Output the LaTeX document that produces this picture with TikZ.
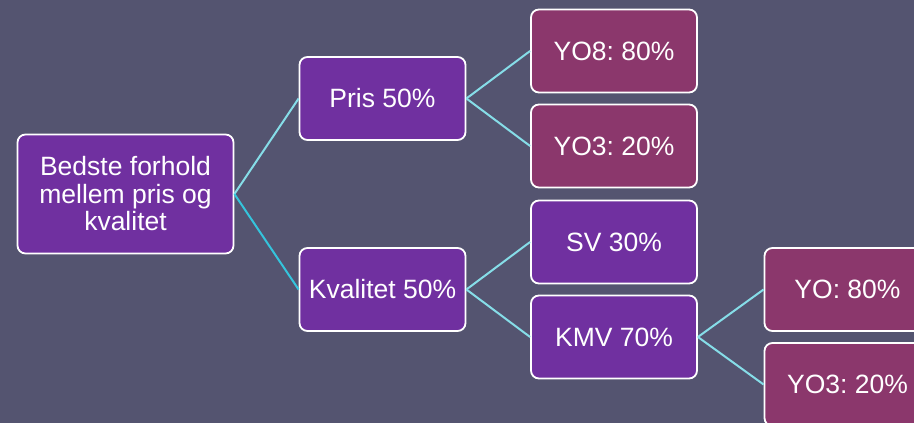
\documentclass[tikz,border=0pt]{standalone}
\usepackage{fontspec}
\setmainfont{Liberation Sans}
\frenchspacing
\definecolor{bgcol}{HTML}{545470}
\definecolor{boxpurple}{HTML}{7030A0}
\definecolor{boxmag}{HTML}{8B376C}
\definecolor{linklight}{HTML}{86DDE8}
\definecolor{linkdark}{HTML}{35C4DC}
\begin{document}
\begin{tikzpicture}[x=1pt,y=1pt,
  box/.style={draw=white, line width=1.8pt, rounded corners=8pt, text=white,
    font=\fontsize{26.5}{27.5}\selectfont, align=center, inner sep=0pt,
    minimum width=166pt, minimum height=83pt},
  purplebox/.style={box, fill=boxpurple},
  magbox/.style={box, fill=boxmag},
  link/.style={draw=linklight, line width=2pt},
  linkb/.style={draw=linkdark, line width=2pt}]
\useasboundingbox (0,0) rectangle (914,423);
\fill[bgcol] (0,0) rectangle (914,423);
\clip (0,0) rectangle (914,423);
\node[purplebox, minimum width=216pt, minimum height=119pt] (root) at (125.5,229) {Bedste forhold\\mellem pris og\\kvalitet};
\node[purplebox] (pris) at (382.5,324.5) {Pris 50\%};
\node[magbox] (yo8) at (614,372) {YO8: 80\%};
\node[magbox] (yo3a) at (614,277) {YO3: 20\%};
\node[purplebox] (kval) at (382.5,133.5) {Kvalitet 50\%};
\node[purplebox] (sv) at (614,181) {SV 30\%};
\node[purplebox] (kmv) at (614,86) {KMV 70\%};
\node[magbox] (yo) at (847.5,133.5) {YO: 80\%};
\node[magbox] (yo3b) at (847.5,38.5) {YO3: 20\%};
\draw[link] (root.east) -- (pris.west);
\draw[linkb] (root.east) -- (kval.west);
\draw[link] (pris.east) -- (yo8.west);
\draw[link] (pris.east) -- (yo3a.west);
\draw[link] (kval.east) -- (sv.west);
\draw[link] (kval.east) -- (kmv.west);
\draw[link] (kmv.east) -- (yo.west);
\draw[link] (kmv.east) -- (yo3b.west);
\end{tikzpicture}
\end{document}
